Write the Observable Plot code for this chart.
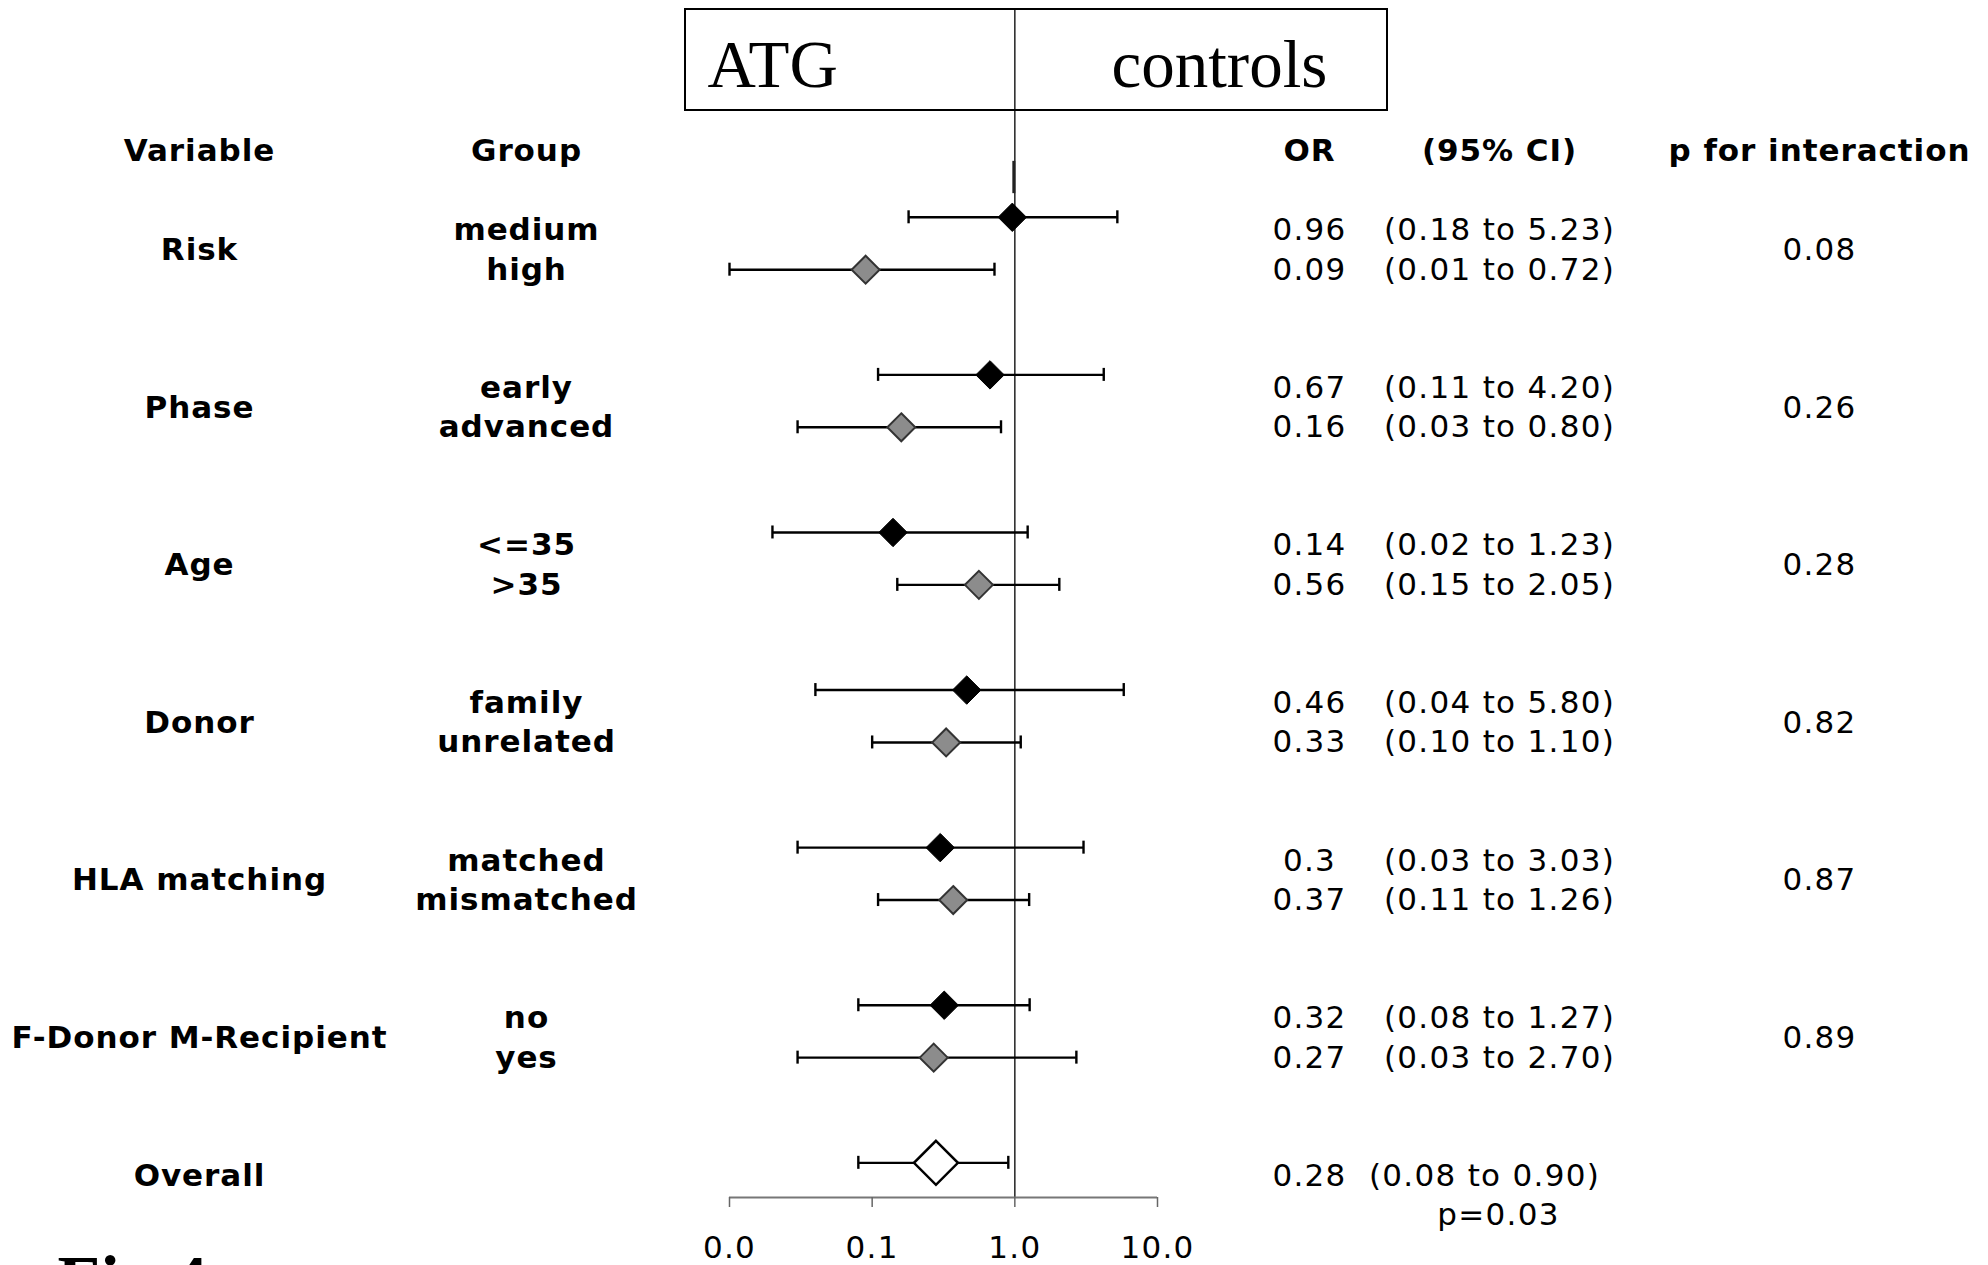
<!DOCTYPE html>
<html>
<head>
<meta charset="utf-8">
<script src="https://cdn.jsdelivr.net/npm/d3@7"></script>
<script src="https://cdn.jsdelivr.net/npm/@observablehq/plot@0.6"></script>
<style>
html, body { margin: 0; padding: 0; background: #fff; overflow: hidden; }
#chart svg { display: block; overflow: hidden; }
#chart svg text { letter-spacing: 1.3px; }
#chart svg g[font-weight="bold"] text { letter-spacing: 0.95px; }
#chart svg g.serif text { letter-spacing: 0; }
</style>
</head>
<body>
<div id="chart"></div>
<script>
// ---------------- data ----------------
const variables = ["Risk", "Phase", "Age", "Donor", "HLA matching", "F-Donor M-Recipient"];
const groupsA = ["medium", "early", "<=35", "family", "matched", "no"];
const groupsB = ["high", "advanced", ">35", "unrelated", "mismatched", "yes"];
const orA = [0.96, 0.67, 0.14, 0.46, 0.30, 0.32];
const loA = [0.18, 0.11, 0.02, 0.04, 0.03, 0.08];
const hiA = [5.23, 4.20, 1.23, 5.80, 3.03, 1.27];
const orB = [0.09, 0.16, 0.56, 0.33, 0.37, 0.27];
const loB = [0.01, 0.03, 0.15, 0.10, 0.11, 0.03];
const hiB = [0.72, 0.80, 2.05, 1.10, 1.26, 2.70];
const pInteraction = ["0.08", "0.26", "0.28", "0.82", "0.87", "0.89"];
const overallLabel = "Overall";
const overallOR = 0.28, overallLo = 0.08, overallHi = 0.90, overallP = "p=0.03";
const headerLabels = ["Variable", "Group", "OR", "(95% CI)", "p for interaction"];
const boxLabels = ["ATG", "controls"];
const xTicks = [0.01, 0.1, 1, 10];
const figLabel = "Fig.4";

// ---------------- layout (line units) ----------------
const f2 = d3.format(".2f");
const rows = [];
variables.forEach((v, g) => {
  rows.push({g, r: 0, group: groupsA[g], or: orA[g], lo: loA[g], hi: hiA[g]});
  rows.push({g, r: 1, group: groupsB[g], or: orB[g], lo: loB[g], hi: hiB[g]});
});
rows.forEach(d => {
  d.textLine = 2 + 4 * d.g + d.r;
  d.markLine = 1.67 + 4 * d.g + 1.33 * d.r;
  d.orLabel = String(d.or);
  d.ciLabel = `(${f2(d.lo)} to ${f2(d.hi)})`;
});
const varRows = variables.map((v, g) => ({label: v, p: pInteraction[g], line: 2.5 + 4 * g}));
const overall = [{label: overallLabel, or: overallOR, lo: overallLo, hi: overallHi,
  textLine: 26, markLine: 25.67, orLabel: String(overallOR),
  ciLabel: `(${f2(overallLo)} to ${f2(overallHi)})`, p: overallP}];
const headers = headerLabels.map(l => ({label: l, line: 0}));
const rowsA = rows.filter(d => d.r === 0);
const rowsB = rows.filter(d => d.r === 1);
const bars = rows.concat(overall);

const colX = {variable: 199, group: 526, or: 1309, ci: 1499, p: 1819, overallCi: 1484, overallP: 1498};
const axisY = 26.55;
const capH = 0.165;

const font = "DejaVu Sans, Verdana, sans-serif";
const serif = "Liberation Serif, Times New Roman, serif";

function col(data, x, opts) {
  return Plot.text(data, {frameAnchor: "left", dx: x, textAnchor: "middle", fill: "black", ...opts});
}

const plot = Plot.plot({
  width: 1988,
  height: 1265,
  marginTop: 9,
  marginBottom: 68,
  marginLeft: 0,
  marginRight: 0,
  x: {type: "log", domain: [0.01, 10], range: [729, 1157], label: null},
  y: {domain: [0, axisY], range: [151, 1197], axis: null},
  style: {fontFamily: font, fontSize: "31px", color: "black", background: "white"},
  marks: [
    // reference line at OR = 1
    Plot.ruleX([1], {stroke: "#222", strokeWidth: 1.5}),
    Plot.ruleX([1], {y1: () => 0.25, y2: () => 1.07, stroke: "#222", strokeWidth: 3, dx: -1}),
    // axis
    Plot.ruleY([axisY], {x1: 0.01, x2: 10, stroke: "#777", strokeWidth: 2}),
    Plot.axisX({ticks: xTicks, tickFormat: d3.format(".1f"), tickSize: 10, tickPadding: 28,
      stroke: "#666", strokeWidth: 1.5, fill: "black", fontSize: 31, label: null}),
    // confidence intervals
    Plot.ruleY(bars, {y: "markLine", x1: "lo", x2: "hi", stroke: "black", strokeWidth: 2.4}),
    Plot.ruleX(bars, {x: "lo", y1: d => d.markLine - capH, y2: d => d.markLine + capH, stroke: "black", strokeWidth: 2.4}),
    Plot.ruleX(bars, {x: "hi", y1: d => d.markLine - capH, y2: d => d.markLine + capH, stroke: "black", strokeWidth: 2.4}),
    // point estimates
    Plot.dot(rowsA, {x: "or", y: "markLine", symbol: "diamond2", r: 12.8, fill: "black", stroke: "black", strokeWidth: 1}),
    Plot.dot(rowsB, {x: "or", y: "markLine", symbol: "diamond2", r: 12.6, fill: "#8c8c8c", stroke: "#333", strokeWidth: 2}),
    Plot.dot(overall, {x: "or", y: "markLine", symbol: "diamond2", r: 19.8, fill: "white", stroke: "black", strokeWidth: 2.5}),
    // table: headers
    ...headers.map((h, i) => col([h], [colX.variable, colX.group, colX.or, colX.ci, colX.p][i],
      {y: "line", text: "label", fontWeight: "bold"})),
    // variables and groups
    col(varRows, colX.variable, {y: "line", text: "label", fontWeight: "bold"}),
    col(rows, colX.group, {y: "textLine", text: "group", fontWeight: "bold"}),
    col(rows, colX.or, {y: "textLine", text: "orLabel"}),
    col(rows, colX.ci, {y: "textLine", text: "ciLabel"}),
    col(varRows, colX.p, {y: "line", text: "p"}),
    // overall
    col(overall, colX.variable, {y: "textLine", text: "label", fontWeight: "bold"}),
    col(overall, colX.or, {y: "textLine", text: "orLabel"}),
    col(overall, colX.overallCi, {y: "textLine", text: "ciLabel"}),
    col(overall, colX.overallP, {y: d => d.textLine + 1, text: "p"}),
    // header box labels
    Plot.text([boxLabels[0]], {frameAnchor: "top-left", dx: 707, dy: 77, lineAnchor: "bottom", textAnchor: "start",
      fontFamily: serif, fontSize: 67, fill: "black", className: "serif"}),
    Plot.text([boxLabels[1]], {frameAnchor: "top-left", dx: 1111, dy: 77, lineAnchor: "bottom", textAnchor: "start",
      fontFamily: serif, fontSize: 67, fill: "black", className: "serif"}),
    // figure label (cut by the bottom edge)
    Plot.text([figLabel], {frameAnchor: "bottom-left", dx: 57, dy: 106, lineAnchor: "bottom", textAnchor: "start",
      fontFamily: serif, fontWeight: "bold", fontSize: 70, fill: "black", className: "serif"})
  ]
});

// header box around ATG / controls
d3.select(plot).append("rect")
  .attr("x", 685).attr("y", 9).attr("width", 702).attr("height", 101)
  .attr("fill", "none").attr("stroke", "black").attr("stroke-width", 2);

document.getElementById("chart").appendChild(plot);
</script>
</body>
</html>
